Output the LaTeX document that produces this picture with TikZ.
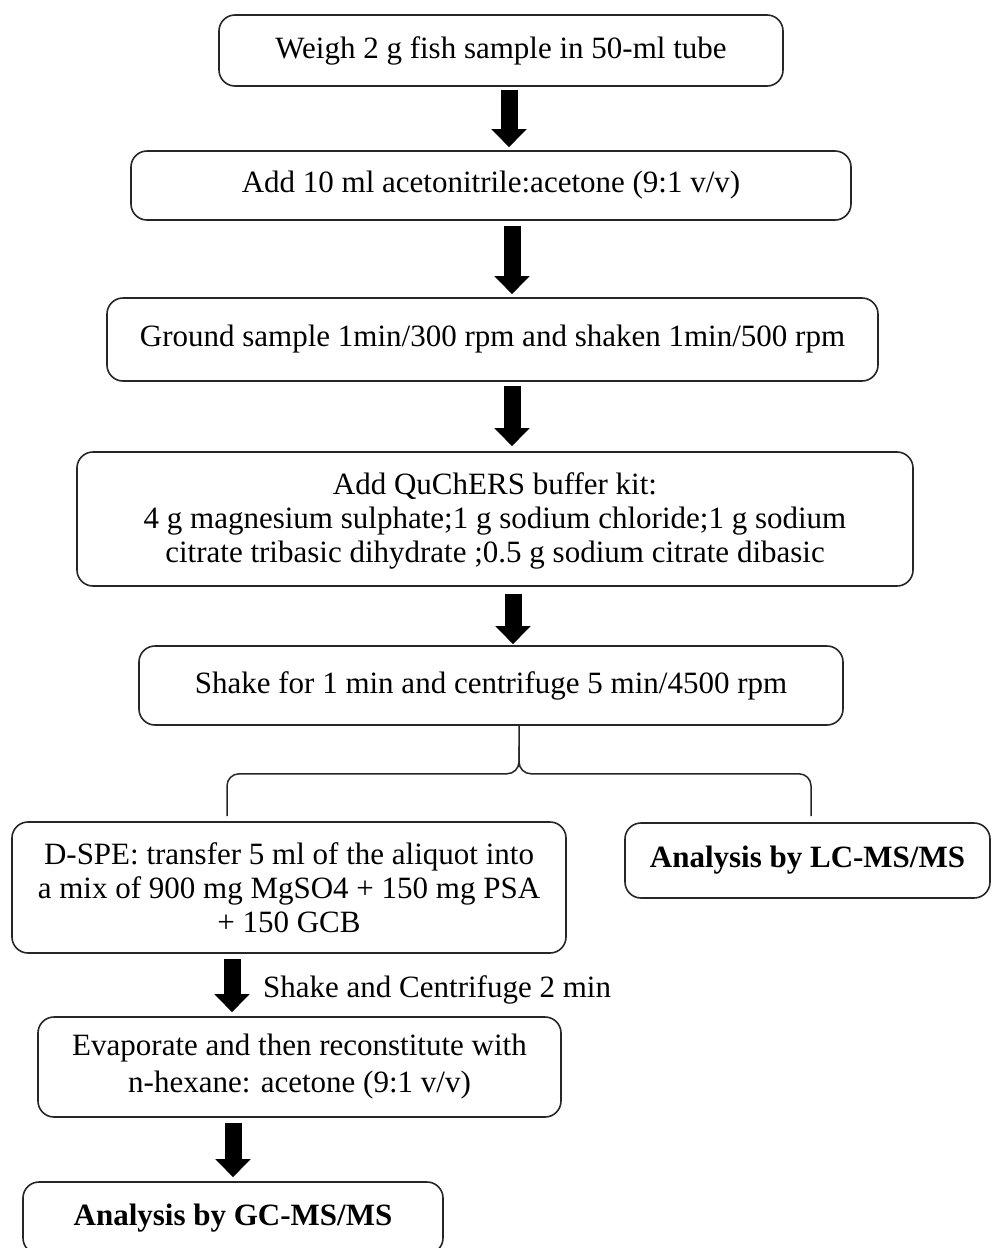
\documentclass[tikz,border=0pt]{standalone}
\usepackage{fontspec}
\setmainfont{Liberation Serif}
\usetikzlibrary{arrows.meta}
\tikzset{
  box/.style={draw=black!85, line width=1.6pt, rounded corners=16pt, align=center,
    font=\fontsize{31}{34}\selectfont, inner sep=0pt},
  bigarrow/.style={line width=17pt, black, -{Triangle[width=34pt,length=18pt]}},
  bracel/.style={draw=black!85, line width=1.5pt, rounded corners=12pt},
  lbl/.style={font=\fontsize{31}{34}\selectfont, inner sep=0pt, anchor=west}
}
\begin{document}
\begin{tikzpicture}[x=1pt,y=1pt]
\useasboundingbox (0,0) rectangle (991,-1248);
\node[box, minimum width=564pt, minimum height=71pt] (weigh) at (501,-50.5) {Weigh 2 g fish sample in 50-ml tube};
\node[box, minimum width=720pt, minimum height=69pt] (add) at (491,-185.5) {Add 10 ml acetonitrile:acetone (9:1 v/v)};
\node[box, minimum width=771pt, minimum height=83pt] (ground) at (492.5,-339.5) {Ground sample 1min/300 rpm and shaken 1min/500 rpm};
\node[box, minimum width=836pt, minimum height=134pt] (kit) at (495,-519) {\rule{0pt}{25pt}Add QuChERS buffer kit:\\4 g magnesium sulphate;1 g sodium chloride;1 g sodium\\citrate tribasic dihydrate ;0.5 g sodium citrate dibasic};
\node[box, minimum width=704pt, minimum height=79pt] (shake) at (491,-685.5) {Shake for 1 min and centrifuge 5 min/4500 rpm};
\node[box, minimum width=554pt, minimum height=131pt] (dspe) at (289,-887.5) {D-SPE: transfer 5 ml of the aliquot into\\a mix of 900 mg MgSO4 + 150 mg PSA\\+ 150 GCB};
\node[box, minimum width=365pt, minimum height=75pt] (lc) at (807.5,-860.5) {\textbf{Analysis by LC-MS/MS}};
\node[box, minimum width=523pt, minimum height=100pt, font=\fontsize{31}{37}\selectfont] (evap) at (299.5,-1067) {Evaporate and then reconstitute with\\n-hexane: acetone (9:1 v/v)};
\node[box, minimum width=420pt, minimum height=72pt] (gc) at (233,-1218) {\textbf{Analysis by GC-MS/MS}};

\draw[bigarrow] ([xshift=8pt,yshift=-3pt]weigh.south) -- ([xshift=18pt,yshift=3pt]add.north);
\draw[bigarrow] ([xshift=21pt,yshift=-5pt]add.south) -- ([xshift=19.5pt,yshift=3pt]ground.north);
\draw[bigarrow] ([xshift=19.5pt,yshift=-4pt]ground.south) -- ([xshift=17pt,yshift=5pt]kit.north);
\draw[bigarrow] ([xshift=18pt,yshift=-7pt]kit.south) -- ([xshift=22pt,yshift=1pt]shake.north);

\coordinate (stem) at ([xshift=28pt]shake.south);
\coordinate (bl) at (227,-816);
\coordinate (br) at (811,-816);
\draw[bracel] (stem) -- ++(0,-48) -| (bl);
\draw[bracel] ([yshift=-20pt]stem) -- ++(0,-28) -| (br);

\draw[bigarrow] ([xshift=-57pt,yshift=-5pt]dspe.south) -- ([xshift=-67.5pt,yshift=4pt]evap.north);
\node[lbl] (sc) at (263,-990) {Shake and Centrifuge 2 min};
\draw[bigarrow] ([xshift=-66.5pt,yshift=-5pt]evap.south) -- ([xshift=0pt,yshift=4pt]gc.north);
\end{tikzpicture}
\end{document}
